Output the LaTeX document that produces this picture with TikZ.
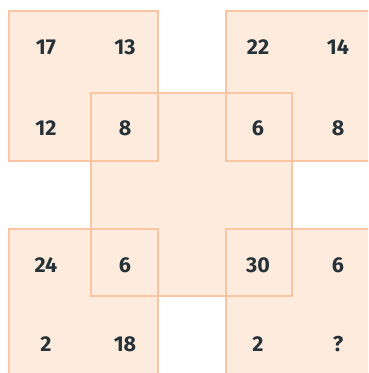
\documentclass[tikz,border=0pt]{standalone}
\usepackage{fontspec}
\setmainfont{Fira Sans}
\definecolor{boxfill}{HTML}{FDECDD}
\definecolor{boxline}{HTML}{FBC4A2}
\definecolor{numtext}{HTML}{263238}
\begin{document}
\begin{tikzpicture}[x=1pt, y=-1pt,
        num/.style={text=numtext, font=\fontsize{21.5}{21.5}\selectfont\bfseries, inner sep=0pt},
        sq/.style={draw=boxline, line width=2.8pt}]
                \useasboundingbox (0,0) rectangle (368,373);
                \clip (0,0) rectangle (368,373);
                % fills first
                \fill[boxfill] (9,11) rectangle (158,161);
                \fill[boxfill] (226,11) rectangle (376,161);
                \fill[boxfill] (9,229) rectangle (158,379);
                \fill[boxfill] (226,229) rectangle (376,379);
                \fill[boxfill] (91,93) rectangle (292,296);
                % borders
                \draw[sq] (9,11) rectangle (158,161);
                \draw[sq] (226,11) rectangle (376,161);
                \draw[sq] (9,229) rectangle (158,379);
                \draw[sq] (226,229) rectangle (376,379);
                \draw[sq] (91,93) rectangle (292,296);
                % top left
                \node[num] (tla) at (46,47) {17};
                \node[num] (tlb) at (125,47) {13};
                \node[num] (tlc) at (46,128) {12};
                \node[num] (tld) at (125,128) {8};
                % top right
                \node[num] (tra) at (258,47) {22};
                \node[num] (trb) at (338,47) {14};
                \node[num] (trc) at (258,128) {6};
                \node[num] (trd) at (338,128) {8};
                % bottom left
                \node[num] (bla) at (46,265) {24};
                \node[num] (blb) at (125,265) {6};
                \node[num] (blc) at (46,344) {2};
                \node[num] (bld) at (125,344) {18};
                % bottom right
                \node[num] (bra) at (258,265) {30};
                \node[num] (brb) at (338,265) {6};
                \node[num] (brc) at (258,344) {2};
                \node[num] (brd) at (338,344) {?};
            \end{tikzpicture}
\end{document}
